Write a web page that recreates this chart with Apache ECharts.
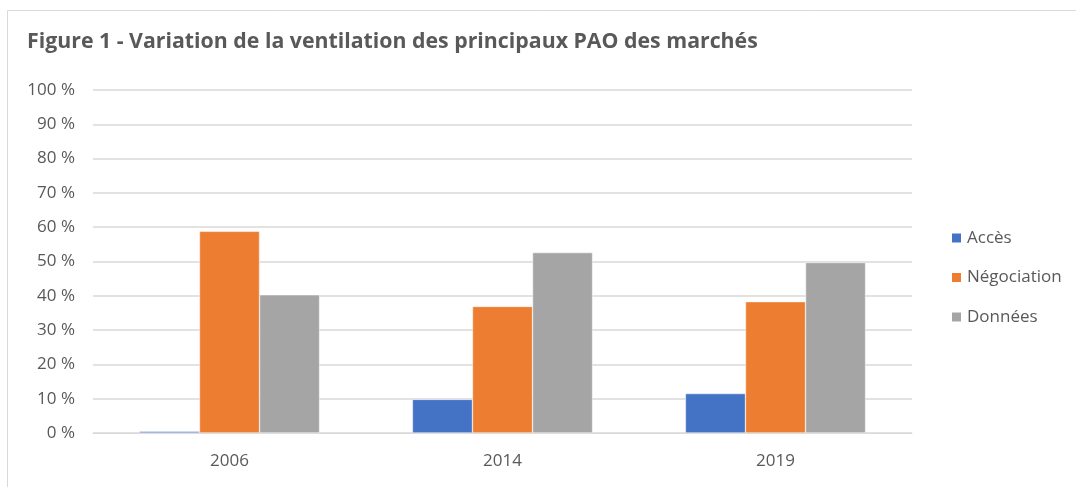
<!DOCTYPE html>
<html>
<head>
<meta charset="utf-8">
<script src="https://cdn.jsdelivr.net/npm/echarts@6/dist/echarts.min.js"></script>
<style>
  html, body { margin: 0; padding: 0; background: #fff; }
  #chart { width: 1076px; height: 487px; }
</style>
</head>
<body>
<div id="chart"></div>
<script>
const years = ['2006', '2014', '2019'];
const acces = [0.5, 9.8, 11.5];
const negociation = [58.8, 36.9, 38.3];
const donnees = [40.3, 52.6, 49.7];
const colors = ['#4472c4', '#ed7d31', '#a5a5a5'];

const chart = echarts.init(document.getElementById('chart'));
const font = 'Open Sans';

const mkSeries = (name, data) => ({
  name,
  type: 'bar',
  data,
  barGap: '0%',
  barCategoryGap: '34%',
  itemStyle: { borderColor: '#fff', borderWidth: 0.5 }
});

chart.setOption({
  color: colors,
  animation: false,
  textStyle: { fontFamily: font },
  graphic: [{
    type: 'rect',
    shape: { x: 7.5, y: 10.5, width: 1080, height: 490 },
    style: { fill: 'none', stroke: '#d9d9d9', lineWidth: 1 }
  }],
  title: {
    text: 'Figure 1 - Variation de la ventilation des principaux PAO des marchés',
    left: 22,
    top: 26,
    textStyle: { fontFamily: font, fontSize: 21.3, fontWeight: 'bold', color: '#595959' }
  },
  legend: {
    orient: 'vertical',
    left: 945,
    top: 223,
    itemWidth: 11,
    itemHeight: 11,
    itemGap: 19.5,
    icon: 'rect',
    textStyle: { fontFamily: font, fontSize: 17, lineHeight: 20, color: '#595959' }
  },
  grid: { left: 93, right: 164, top: 90, bottom: 54, containLabel: false },
  xAxis: {
    type: 'category',
    data: years,
    axisLine: { show: true, lineStyle: { color: '#d9d9d9', width: 1 } },
    axisTick: { show: false },
    axisLabel: { fontFamily: font, fontSize: 17, color: '#595959', margin: 20 }
  },
  yAxis: {
    type: 'value',
    min: 0,
    max: 100,
    interval: 10,
    axisLine: { show: false },
    axisTick: { show: false },
    splitLine: { lineStyle: { color: '#d9d9d9', width: 1.5 } },
    axisLabel: { fontFamily: font, fontSize: 17, color: '#595959', margin: 18, formatter: '{value} %' }
  },
  series: [
    mkSeries('Accès', acces),
    mkSeries('Négociation', negociation),
    mkSeries('Données', donnees)
  ]
});
</script>
</body>
</html>
